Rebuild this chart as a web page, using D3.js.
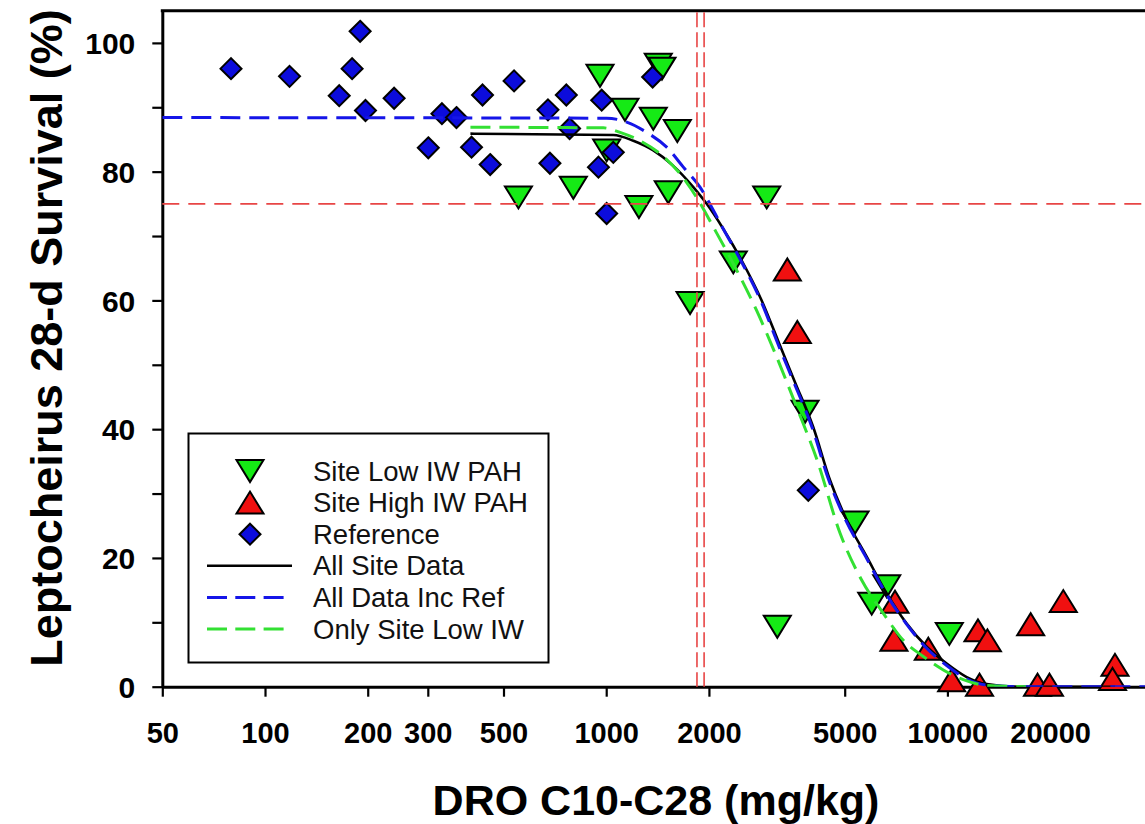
<!DOCTYPE html>
<html>
<head>
<meta charset="utf-8">
<script src="https://cdn.jsdelivr.net/npm/d3@7/dist/d3.min.js"></script>
<style>
  body { margin: 0; background: #fff; }
  svg { display: block; }
</style>
</head>
<body>
<svg id="chart" width="1145" height="824"></svg>
<script>
// ---- axis ticks ----
const xTickValues = [50, 100, 200, 300, 500, 1000, 2000, 5000, 10000, 20000];
const yTickValues = [0, 10, 20, 30, 40, 50, 60, 70, 80, 90, 100];
const yTickLabels = [0, 20, 40, 60, 80, 100];

// ---- observations: DRO C10-C28 (mg/kg) vs 28-d survival (%) ----
const lowX  = [959, 1421, 1457, 1135, 1374, 1616, 1003, 553, 801, 1247, 1520, 1761, 2954, 2358, 3826, 5362, 6639, 6000, 10130, 3173];
const lowY  = [94.9, 96.6, 96.0, 89.6, 88.2, 86.3, 83.3, 76.0, 77.5, 74.5, 76.8, 59.6, 76.0, 65.9, 42.7, 25.5, 15.6, 12.9, 8.2, 9.3];

const highX = [3395, 3632, 7021, 6971, 8790, 12290, 13100, 10290, 12420, 17540, 21860, 18370, 19910, 30980, 30470];
const highY = [64.8, 55.1, 13.2, 7.3, 5.9, 8.75, 7.2, 1.0, 0.3, 9.7, 13.3, 0.3, 0.3, 3.4, 1.2];

const refX  = [79.5, 118, 190, 180, 165, 197, 239, 301, 330, 364, 434, 537, 403, 457, 675, 764, 684, 781, 970, 1049, 949, 1003, 1368, 3911];
const refY  = [96.0, 94.8, 101.8, 96.0, 91.8, 89.5, 91.4, 83.7, 89.0, 88.4, 91.9, 94.1, 83.8, 81.1, 89.6, 91.9, 81.3, 86.7, 91.1, 83.0, 80.7, 73.5, 94.7, 30.5];

// ---- fitted response curves ----
const allSiteX = [400, 1049, 1201, 1374, 1573, 1800, 1970, 2204, 2495, 2855, 3231, 3575, 4045, 4527, 5068, 5800, 6639, 7598, 8697, 9951, 11390, 13040, 16000, 31000];
const allSiteY = [85.9, 85.7, 84.8, 83.3, 80.9, 77.6, 75.0, 71.1, 66.2, 60.0, 53.0, 47.3, 40.3, 32.1, 25.9, 20.2, 14.5, 9.8, 6.2, 3.6, 1.5, 0.4, 0, 0];

const allRefX = [50, 1003, 1148, 1314, 1504, 1683, 1883, 2060, 2204, 2480, 2835, 3200, 3545, 4010, 4490, 5030, 5760, 6600, 7570, 8680, 9950, 11400, 13200, 16500, 50000];
const allRefY = [88.4, 88.3, 87.7, 86.1, 83.8, 80.7, 77.6, 74.0, 71.1, 66.2, 60.0, 53.0, 47.3, 40.3, 32.1, 25.9, 20.2, 14.5, 9.8, 6.0, 3.3, 1.2, 0.2, 0, 0];

const lowOnlyX = [400, 981, 1098, 1256, 1437, 1645, 1841, 2060, 2358, 2761, 3160, 3617, 4150, 4850, 5600, 6489, 7427, 8500, 9727, 11135, 13040, 17000];
const lowOnlyY = [86.9, 86.8, 86.1, 84.8, 82.8, 79.7, 76.0, 71.4, 65.7, 58.4, 51.2, 43.4, 35.2, 23.8, 16.6, 11.4, 7.2, 4.7, 2.6, 1.1, 0.2, 0];

// ---- reference lines: 75% survival and the two EC25 estimates ----
const survivalLevel = [75];
const ec25Values = [1845, 1936];

// ---- legend ----
const legendLabels = ["Site Low IW PAH", "Site High IW PAH", "Reference", "All Site Data", "All Data Inc Ref", "Only Site Low IW"];

(function draw() {
  const FONT = "'Liberation Sans', Arial, Helvetica, sans-serif";
  const svg = d3.select("#chart");
  svg.append("rect").attr("width", 1145).attr("height", 824).attr("fill", "#fff");

  const plotLeft = 162.3, plotTop = 10.7, plotBottom = 686.7;
  const decade = 341.2;
  const x = d3.scaleLog().domain([50, 50000]).range([plotLeft, plotLeft + 3 * decade]);
  const y = d3.scaleLinear().domain([0, 105]).range([plotBottom, plotTop]);
  const plotRight = x.range()[1];

  const zip = (xs, ys) => xs.map((v, i) => [v, ys[i]]);

  const colors = {
    low: "#15ea15", high: "#f01010", ref: "#0c0cdc",
    black: "#000", blue: "#1515e8", green: "#33e033", red: "#e84545"
  };

  // ---- axes ----
  const xAxis = d3.axisBottom(x)
    .tickValues(xTickValues)
    .tickFormat(d3.format("d"))
    .tickSize(10).tickSizeOuter(0).tickPadding(26);
  const gx = svg.append("g").attr("transform", `translate(0,${plotBottom})`).call(xAxis);

  const yAxis = d3.axisLeft(y)
    .tickValues(yTickValues)
    .tickFormat(d => yTickLabels.includes(d) ? d : "")
    .tickSize(10).tickSizeOuter(0).tickPadding(17);
  const gy = svg.append("g").attr("transform", `translate(${plotLeft},0)`).call(yAxis);

  [gx, gy].forEach(g => {
    g.select(".domain").attr("stroke", "#000").attr("stroke-width", 3);
    g.selectAll(".tick line").attr("stroke", "#000").attr("stroke-width", 2.2);
    g.selectAll(".tick text")
      .attr("fill", "#000")
      .style("font-family", FONT)
      .style("font-weight", "bold");
  });
  gx.selectAll(".tick text").style("font-size", "29px");
  gy.selectAll(".tick text").style("font-size", "30px").attr("dy", "0.36em");

  // top frame
  svg.append("line")
    .attr("x1", plotLeft - 1.5).attr("x2", plotRight)
    .attr("y1", plotTop).attr("y2", plotTop)
    .attr("stroke", "#000").attr("stroke-width", 3);

  // ---- axis titles ----
  svg.append("text")
    .attr("x", 656).attr("y", 815)
    .attr("text-anchor", "middle")
    .style("font-family", FONT).style("font-size", "43px").style("font-weight", "bold")
    .text("DRO C10-C28 (mg/kg)");

  svg.append("text")
    .attr("transform", "translate(62,338) rotate(-90)")
    .attr("text-anchor", "middle")
    .style("font-family", FONT).style("font-size", "45px").style("font-weight", "bold")
    .text("Leptocheirus 28-d Survival (%)");

  // ---- markers ----
  const downTri = "M-13.5,-11L13.5,-11L0,11Z";
  const upTri = "M-13.5,11L13.5,11L0,-11Z";
  const diamond = "M0,-10.5L10.5,0L0,10.5L-10.5,0Z";

  function drawPoints(xs, ys, shape, fill) {
    svg.append("g").selectAll("path")
      .data(zip(xs, ys))
      .join("path")
      .attr("d", shape)
      .attr("transform", d => `translate(${x(d[0])},${y(d[1])})`)
      .attr("fill", fill)
      .attr("stroke", "#000")
      .attr("stroke-width", 2)
      .attr("stroke-linejoin", "miter");
  }
  drawPoints(lowX, lowY, downTri, colors.low);
  drawPoints(highX, highY, upTri, colors.high);
  drawPoints(refX, refY, diamond, colors.ref);

  // ---- fitted curves ----
  svg.append("clipPath").attr("id", "plotClip")
    .append("rect").attr("x", plotLeft).attr("y", plotTop)
    .attr("width", plotRight - plotLeft).attr("height", plotBottom - plotTop);

  const line = d3.line().x(d => x(d[0])).y(d => y(d[1])).curve(d3.curveMonotoneX);
  const curves = svg.append("g").attr("clip-path", "url(#plotClip)");

  curves.append("path").datum(zip(allSiteX, allSiteY))
    .attr("d", line).attr("fill", "none")
    .attr("stroke", colors.black).attr("stroke-width", 2.6);
  curves.append("path").datum(zip(allRefX, allRefY))
    .attr("d", line).attr("fill", "none")
    .attr("stroke", colors.blue).attr("stroke-width", 3)
    .attr("stroke-dasharray", "20,9");
  curves.append("path").datum(zip(lowOnlyX, lowOnlyY))
    .attr("d", line).attr("fill", "none")
    .attr("stroke", colors.green).attr("stroke-width", 3)
    .attr("stroke-dasharray", "20,9");

  // ---- reference lines ----
  const refLines = svg.append("g").attr("stroke", colors.red).attr("stroke-width", 1.6).attr("fill", "none");
  refLines.selectAll("line.h").data(survivalLevel).join("line")
    .attr("class", "h")
    .attr("x1", plotLeft).attr("x2", plotRight)
    .attr("y1", d => y(d)).attr("y2", d => y(d))
    .attr("stroke-dasharray", "17,9");
  refLines.selectAll("line.v").data(ec25Values).join("line")
    .attr("class", "v")
    .attr("x1", d => x(d)).attr("x2", d => x(d))
    .attr("y1", plotTop + 1.5).attr("y2", plotBottom)
    .attr("stroke-dasharray", "15,5");

  // ---- legend ----
  const lg = svg.append("g");
  lg.append("rect")
    .attr("x", 188.5).attr("y", 433.5).attr("width", 360).attr("height", 229)
    .attr("fill", "#fff").attr("stroke", "#000").attr("stroke-width", 2);

  const rowY = i => 471 + i * 31.6;
  const symX = 250;
  const legendSymbols = [
    { type: "marker", d: downTri, fill: colors.low },
    { type: "marker", d: upTri, fill: colors.high },
    { type: "marker", d: diamond, fill: colors.ref },
    { type: "line", stroke: colors.black, dash: null, w: 2.6, x2: 292 },
    { type: "line", stroke: colors.blue, dash: "20,8.3", w: 3, x2: 284 },
    { type: "line", stroke: colors.green, dash: "20,8.3", w: 3, x2: 284 }
  ];
  legendSymbols.forEach((s, i) => {
    if (s.type === "marker") {
      lg.append("path").attr("d", s.d)
        .attr("transform", `translate(${symX},${rowY(i)})`)
        .attr("fill", s.fill).attr("stroke", "#000").attr("stroke-width", 2);
    } else {
      lg.append("line")
        .attr("x1", 207).attr("x2", s.x2)
        .attr("y1", rowY(i)).attr("y2", rowY(i))
        .attr("stroke", s.stroke).attr("stroke-width", s.w)
        .attr("stroke-dasharray", s.dash);
    }
    lg.append("text")
      .attr("x", 313).attr("y", rowY(i) + 9.5)
      .style("font-family", FONT).style("font-size", "27.5px")
      .attr("fill", "#111")
      .text(legendLabels[i]);
  });
})();
</script>
</body>
</html>
